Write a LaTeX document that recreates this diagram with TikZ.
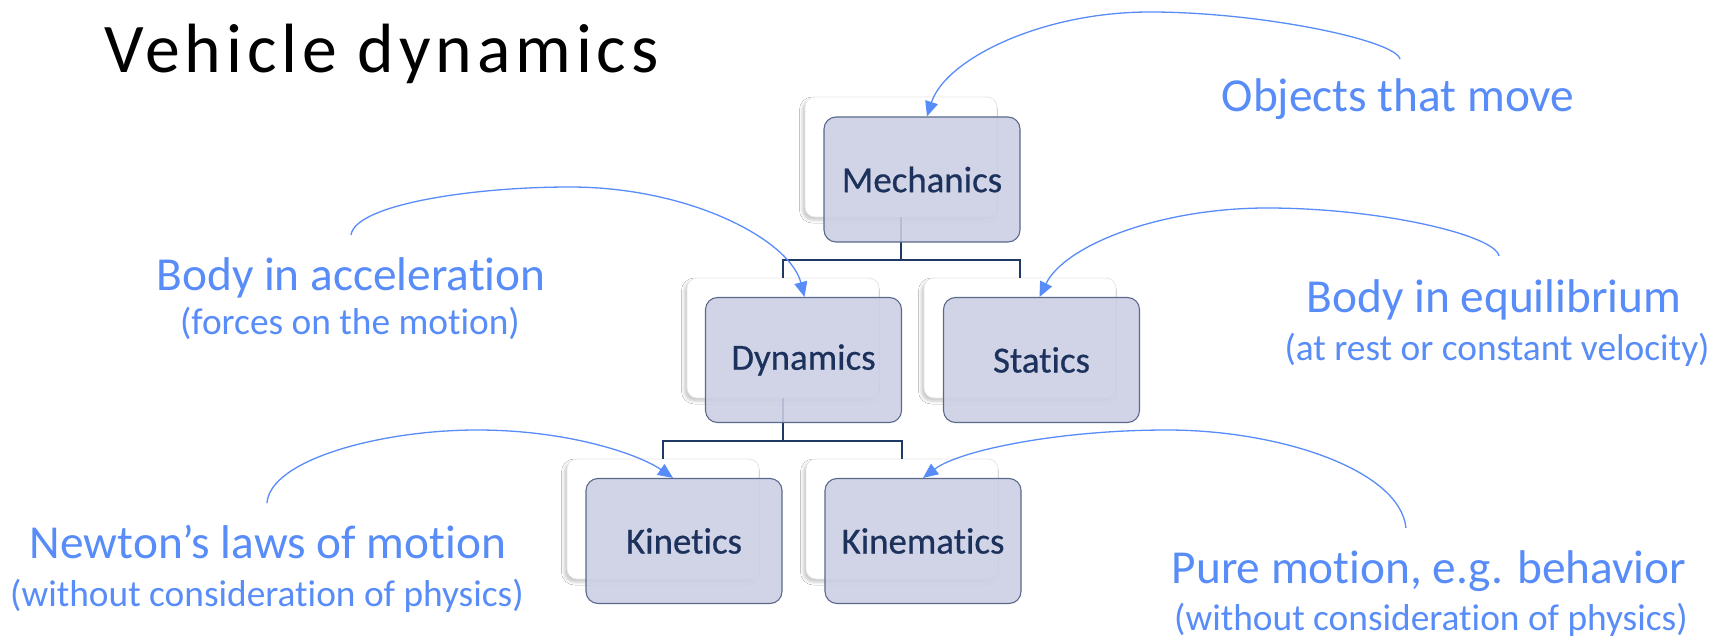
\documentclass[tikz,border=0pt]{standalone}
\usepackage{fontspec}
\setmainfont{Carlito}[RawFeature={-liga,-dlig}]
\usetikzlibrary{arrows.meta,shadows.blur}

\definecolor{navy}{RGB}{31,56,100}
\definecolor{boxtext}{RGB}{28,50,92}
\definecolor{boxfill}{RGB}{203,207,227}
\definecolor{boxedge}{RGB}{90,105,140}
\definecolor{note}{RGB}{88,140,248}
\definecolor{backedge}{RGB}{230,230,234}

\tikzset{
  backbox/.style={draw=backedge, line width=0.8bp, fill=white, rounded corners=10bp,
    minimum width=192bp, minimum height=120bp, inner sep=0pt,
    blur shadow={shadow xshift=-2.5bp, shadow yshift=-3bp, shadow blur radius=3bp, shadow opacity=22}},
  frontbox/.style={draw=boxedge, line width=1.1bp, fill=boxfill, fill opacity=0.88, text opacity=1,
    rounded corners=12bp, minimum width=196bp, minimum height=125bp, inner sep=0pt,
    text=boxtext, font=\fontsize{37}{40}\selectfont\addfontfeatures{FakeBold=0.6}},
  tree/.style={draw=navy, line width=2bp},
  callout/.style={draw=note, line width=1.3bp, -{Triangle[length=15bp,width=13bp]}},
  headnote/.style={text=note, font=\fontsize{47.5}{52}\selectfont, anchor=base, inner sep=0pt},
  subnote/.style={text=note, font=\fontsize{37.5}{40}\selectfont, anchor=base, inner sep=0pt},
}

\begin{document}
\begin{tikzpicture}[x=1bp, y=-1bp]
  \fill[white] (0,0) rectangle (1715,638);
  \useasboundingbox (0,0) rectangle (1715,638);

  % title
  \node[anchor=base west, inner sep=0pt, font=\fontsize{70}{74}\selectfont\addfontfeatures{LetterSpace=7}] (title) at (104,73) {Vehicle dynamics};

  % back cards
  \node[backbox] (mechB) at (901,157) {};
  \node[backbox] (dynB)  at (783,338) {};
  \node[backbox] (statB) at (1020,338) {};
  \node[backbox] (kinB)  at (663,519) {};
  \node[backbox] (kinmB) at (902,519) {};

  % hierarchy lines
  \draw[tree] (mechB.south) -- ++(0,43) coordinate (j1);
  \draw[tree] (dynB.north) |- (j1) -| (statB.north);
  \draw[tree] (dynB.south) -- ++(0,43) coordinate (j2);
  \draw[tree] (kinB.north) |- (j2) -| (kinmB.north);

  % front cards
  \node[frontbox] (mech) at (922,179.5) {Mechanics};
  \node[frontbox] (dyn)  at (803.5,360) {Dynamics};
  \node[frontbox] (stat) at (1041.5,360) {Statics};
  \node[frontbox] (kin)  at (684,541) {Kinetics};
  \node[frontbox] (kinm) at (923,541) {Kinematics};

  % notes
  \node[headnote] (objects) at (1398,112) {Objects that move};
  \node[headnote] (accel) at (351,290) {Body in acceleration};
  \node[subnote] (accelsub) at (350,334) {(forces on the motion)};
  \node[headnote] (equil) at (1494,312) {Body in equilibrium};
  \node[subnote] (equilsub) at (1497,360) {(at rest or constant velocity)};
  \node[headnote] (newton) at (268,558) {Newton’s laws of motion};
  \node[subnote] (newtonsub) at (267,606) {(without consideration of physics)};
  \node[headnote] (pure) at (1429,583) {Pure motion, e.g. behavior};
  \node[subnote] (puresub) at (1431,630) {(without consideration of physics)};

  % curved call-out arrows
  \coordinate (s1) at (1400,59);
  \coordinate (s2) at (1499,256);
  \coordinate (s3) at (351,235);
  \coordinate (s4) at (267,503);
  \coordinate (s5) at (1406,528);

  \draw[callout] (s1) .. controls (1395,40) and (1260,12) .. (1150,12)
                      .. controls (1040,12) and (945,60) .. ([xshift=5bp]mech.north);
  \draw[callout] (s2) .. controls (1495,235) and (1380,208) .. (1267,208)
                      .. controls (1160,208) and (1065,245) .. ([xshift=-2bp]stat.north);
  \draw[callout] (s3) .. controls (355,205) and (470,187) .. (570,187)
                      .. controls (690,187) and (790,240) .. ([xshift=1bp]dyn.north);
  \draw[callout] (s4) .. controls (270,460) and (380,430) .. (477,430)
                      .. controls (570,430) and (640,455) .. ([xshift=-11bp]kin.north);
  \draw[callout] (s5) .. controls (1400,470) and (1280,430) .. (1167,430)
                      .. controls (1060,430) and (960,450) .. (kinm.north);
\end{tikzpicture}
\end{document}
